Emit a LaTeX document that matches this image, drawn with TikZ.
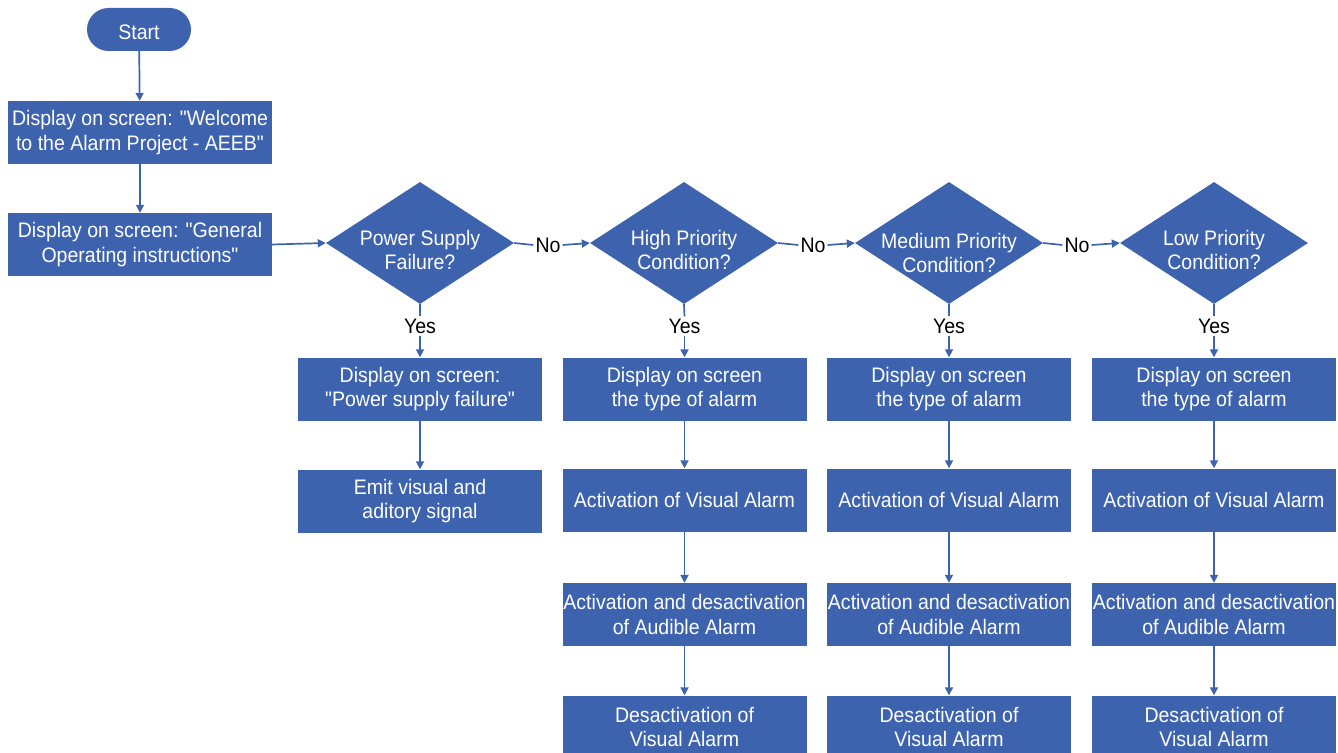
\documentclass[tikz,border=0pt]{standalone}
\usepackage{fontspec}
\newfontfamily\myfont[FakeStretch=0.93]{Liberation Sans}
\usetikzlibrary{shapes.geometric,arrows.meta}
\definecolor{fc}{RGB}{62,99,174}
\newcommand\myfs{\myfont\fontsize{21pt}{24.8pt}\selectfont}
\begin{document}
\begin{tikzpicture}[x=1pt,y=-1pt,
  box/.style={rectangle, fill=fc, text=white, minimum width=244pt, minimum height=63pt, align=center, inner sep=0pt, font=\myfs},
  wbox/.style={box, minimum width=264pt},
  pill/.style={rectangle, rounded corners=21.5pt, fill=fc, text=white, minimum width=104pt, minimum height=43pt, inner sep=0pt, text height=21pt, text depth=0pt, font=\myfs},
  dia/.style={diamond, fill=fc, minimum width=188pt, minimum height=122pt, inner sep=0pt},
  dtext/.style={text=white, align=center, inner sep=0pt, font=\myfs},
  lbl/.style={text=black, inner sep=2pt, font=\myfs},
  conn/.style={draw=fc, line width=1.7pt},
  arr/.style={conn, -{Triangle[length=8pt,width=8pt]}}
]
\useasboundingbox (0,0) rectangle (1338,752);
\clip (0,0) rectangle (1338,752);

\node[pill] (start) at (139,29.5) {Start};
\node[wbox] (w1) at (140,132.5) {Display on screen: "Welcome\\to the Alarm Project - AEEB"};
\node[wbox] (w2) at (140,244.5) {Display on screen: "General\\Operating instructions"};
\draw[arr] (start) -- (w1);
\draw[arr] (w1) -- (w2);

% diamonds
\node[dia] (d1) at (420,243) {};
\node[dtext] (d1t) at (420,250) {Power Supply\\Failure?};
\node[dia] (d2) at (684,243) {};
\node[dtext] (d2t) at (684,250) {High Priority\\Condition?};
\node[dia] (d3) at (949,243) {};
\node[dtext] (d3t) at (949,253) {Medium Priority\\Condition?};
\node[dia] (d4) at (1214,243) {};
\node[dtext] (d4t) at (1214,250) {Low Priority\\Condition?};

\draw[arr] (w2.east) -- (d1.west);

\node[lbl] (no1) at (548,245) {No};
\node[lbl] (no2) at (813,245) {No};
\node[lbl] (no3) at (1077,245) {No};
\draw[conn] (d1.east) -- (no1.west);
\draw[arr] (no1.east) -- (d2.west);
\draw[conn] (d2.east) -- (no2.west);
\draw[arr] (no2.east) -- (d3.west);
\draw[conn] (d3.east) -- (no3.west);
\draw[arr] (no3.east) -- (d4.west);

% column 1
\node[lbl] (y1) at (420,326) {Yes};
\node[box] (c1a) at (420,389) {Display on screen:\\"Power supply failure"};
\node[box] (c1b) at (420,501) {Emit visual and\\aditory signal};
\draw[conn] (d1.south) -- (y1.north);
\draw[arr] (y1.south) -- (c1a.north);
\draw[arr] (c1a) -- (c1b);

% columns 2-4
\foreach \n/\x in {2/684.5, 3/949, 4/1214}{
  \node[lbl] (y\n) at (\x,326) {Yes};
  \node[box] (c\n a) at (\x,389) {Display on screen\\the type of alarm};
  \node[box] (c\n b) at (\x,500) {Activation of Visual Alarm};
  \node[box] (c\n c) at (\x,614.5) {Activation and desactivation\\of Audible Alarm};
  \node[box] (c\n d) at (\x,727) {Desactivation of\\Visual Alarm};
  \draw[conn] (d\n.south) -- (y\n.north);
  \draw[arr] (y\n.south) -- (c\n a.north);
  \draw[arr] (c\n a) -- (c\n b);
  \draw[arr] (c\n b) -- (c\n c);
  \draw[arr] (c\n c) -- (c\n d);
}
\end{tikzpicture}
\end{document}
